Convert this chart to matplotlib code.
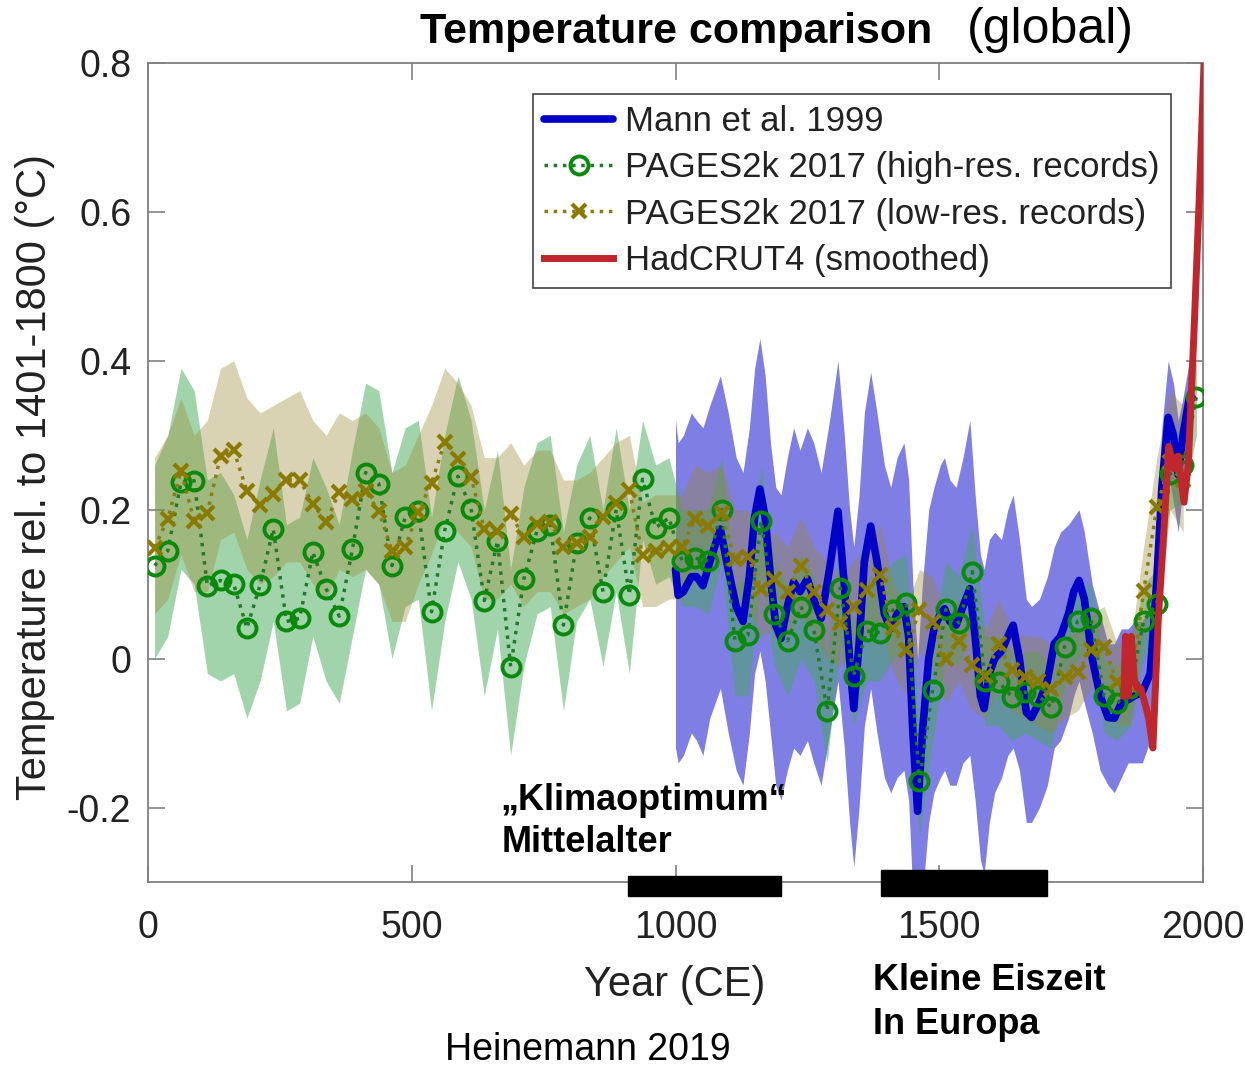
import matplotlib.pyplot as plt
from matplotlib.patches import Rectangle

plt.rcParams['font.family'] = ['Liberation Sans', 'DejaVu Sans']
plt.rcParams['axes.unicode_minus'] = False

W, H = 1245, 1069

# PAGES2k 2017, high-res records (25-year bins)
hi_years = [12.5 + 25 * i for i in range(80)]
hi_vals = [0.125, 0.145, 0.237, 0.239, 0.098, 0.105, 0.100, 0.041, 0.099, 0.174,
           0.050, 0.054, 0.143, 0.094, 0.057, 0.147, 0.250, 0.235, 0.125, 0.190,
           0.198, 0.063, 0.172, 0.245, 0.201, 0.078, 0.158, -0.011, 0.107, 0.172,
           0.180, 0.045, 0.155, 0.189, 0.090, 0.200, 0.086, 0.241, 0.176, 0.189,
           0.131, 0.135, 0.131, 0.200, 0.024, 0.032, 0.185, 0.060, 0.024, 0.070,
           0.038, -0.070, 0.095, -0.023, 0.037, 0.035, 0.065, 0.075, -0.165, -0.042,
           0.066, 0.048, 0.117, -0.030, -0.031, -0.051, -0.045, -0.050, -0.065, 0.016,
           0.050, 0.054, -0.050, -0.060, -0.040, 0.051, 0.074, 0.248, 0.260, 0.352]
hi_up = [0.26, 0.30, 0.39, 0.36, 0.24, 0.25, 0.22, 0.16, 0.24, 0.31,
         0.18, 0.19, 0.27, 0.23, 0.18, 0.28, 0.37, 0.36, 0.25, 0.31,
         0.32, 0.19, 0.30, 0.38, 0.32, 0.20, 0.28, 0.12, 0.23, 0.29,
         0.30, 0.17, 0.26, 0.30, 0.20, 0.31, 0.20, 0.32, 0.26, 0.27,
         0.20, 0.20, 0.20, 0.27, 0.10, 0.11, 0.26, 0.13, 0.10, 0.14,
         0.11, 0.00, 0.17, 0.05, 0.11, 0.10, 0.13, 0.14, -0.09, 0.03,
         0.13, 0.11, 0.18, 0.03, 0.03, 0.01, 0.01, 0.01, -0.01, 0.07,
         0.10, 0.10, 0.00, -0.01, 0.01, 0.10, 0.12, 0.30, 0.31, 0.40]
hi_lo = [0.00, 0.03, 0.12, 0.10, -0.02, -0.03, -0.02, -0.08, -0.03, 0.05,
         -0.07, -0.06, 0.03, -0.03, -0.06, 0.03, 0.12, 0.10, 0.00, 0.07,
         0.08, -0.07, 0.05, 0.13, 0.08, -0.05, 0.04, -0.13, -0.01, 0.06,
         0.07, -0.07, 0.05, 0.08, -0.01, 0.09, -0.02, 0.16, 0.10, 0.11,
         0.07, 0.07, 0.06, 0.13, -0.05, -0.05, 0.11, -0.01, -0.05, 0.00,
         -0.03, -0.14, 0.02, -0.09, -0.03, -0.03, 0.00, 0.01, -0.24, -0.11,
         0.00, -0.01, 0.05, -0.09, -0.09, -0.11, -0.10, -0.11, -0.12, -0.04,
         0.00, 0.01, -0.10, -0.11, -0.09, 0.00, 0.03, 0.20, 0.21, 0.30]

# PAGES2k 2017, low-res records
lr_years = [12.5 + 25 * i for i in range(79)]
lr_vals = [0.149, 0.188, 0.252, 0.185, 0.196, 0.272, 0.280, 0.225, 0.206, 0.221,
           0.240, 0.240, 0.208, 0.183, 0.224, 0.214, 0.225, 0.198, 0.145, 0.150,
           0.197, 0.236, 0.291, 0.268, 0.244, 0.174, 0.172, 0.194, 0.163, 0.181,
           0.183, 0.150, 0.155, 0.163, 0.190, 0.209, 0.226, 0.139, 0.145, 0.149,
           0.150, 0.188, 0.178, 0.195, 0.134, 0.137, 0.094, 0.107, 0.090, 0.125,
           0.090, 0.065, 0.048, 0.070, 0.092, 0.112, 0.041, 0.011, 0.065, 0.049,
           0.000, 0.024, -0.008, -0.023, 0.019, -0.015, -0.025, -0.030, -0.041, -0.025,
           -0.018, 0.012, 0.016, -0.032, -0.035, 0.091, 0.204, 0.264, 0.240]
lr_up = [0.27, 0.30, 0.35, 0.30, 0.32, 0.39, 0.40, 0.35, 0.33, 0.34,
         0.35, 0.36, 0.32, 0.30, 0.33, 0.32, 0.33, 0.31, 0.25, 0.26,
         0.30, 0.34, 0.39, 0.37, 0.34, 0.27, 0.27, 0.29, 0.26, 0.28,
         0.28, 0.24, 0.24, 0.25, 0.27, 0.29, 0.30, 0.21, 0.22, 0.22,
         0.22, 0.26, 0.25, 0.26, 0.20, 0.20, 0.16, 0.17, 0.15, 0.19,
         0.15, 0.13, 0.11, 0.13, 0.15, 0.18, 0.10, 0.07, 0.12, 0.11,
         0.06, 0.08, 0.05, 0.04, 0.08, 0.04, 0.03, 0.03, 0.02, 0.03,
         0.04, 0.06, 0.07, 0.02, 0.02, 0.15, 0.27, 0.36, 0.34]
lr_lo = [0.06, 0.08, 0.14, 0.09, 0.09, 0.16, 0.17, 0.12, 0.10, 0.11,
         0.13, 0.13, 0.10, 0.08, 0.12, 0.11, 0.12, 0.10, 0.05, 0.05,
         0.10, 0.14, 0.19, 0.17, 0.15, 0.08, 0.08, 0.10, 0.07, 0.09,
         0.09, 0.06, 0.07, 0.08, 0.11, 0.13, 0.15, 0.07, 0.07, 0.08,
         0.08, 0.12, 0.11, 0.13, 0.07, 0.07, 0.03, 0.04, 0.03, 0.06,
         0.03, 0.00, -0.01, 0.01, 0.03, 0.05, -0.02, -0.05, 0.01, -0.01,
         -0.06, -0.03, -0.07, -0.08, -0.04, -0.07, -0.08, -0.09, -0.10, -0.08,
         -0.07, -0.04, -0.04, -0.09, -0.09, 0.03, 0.14, 0.20, 0.17]

# Mann et al. 1999
mann_years = [1000, 1005, 1015, 1030, 1040, 1052, 1065, 1085, 1100, 1115,
              1128, 1140, 1150, 1160, 1170, 1180, 1190, 1200, 1212, 1224,
              1236, 1250, 1262, 1276, 1292, 1308, 1320, 1330, 1338, 1348,
              1358, 1370, 1382, 1396, 1408, 1420, 1433, 1442, 1450, 1459,
              1468, 1480, 1490, 1502, 1510, 1520, 1532, 1545, 1558, 1568,
              1578, 1585, 1595, 1605, 1618, 1630, 1640, 1652, 1665, 1675,
              1690, 1705, 1718, 1730, 1745, 1755, 1765, 1775, 1790, 1805,
              1820, 1832, 1845, 1858, 1870, 1885, 1900, 1912, 1922, 1934,
              1944, 1953, 1962, 1974, 1980]
mann_vals = [0.12, 0.085, 0.09, 0.11, 0.11, 0.098, 0.13, 0.174, 0.12, 0.07,
             0.05, 0.11, 0.19, 0.228, 0.19, 0.11, 0.045, 0.027, 0.07, 0.103,
             0.09, 0.107, 0.08, 0.054, 0.12, 0.198, 0.10, 0.0, -0.067, 0.02,
             0.13, 0.178, 0.13, 0.06, 0.04, 0.06, 0.07, 0.03, -0.10, -0.205,
             -0.10, 0.0, 0.04, 0.06, 0.067, 0.05, 0.045, 0.07, 0.094, 0.03,
             -0.05, -0.067, -0.02, 0.0, 0.01, 0.03, 0.045, 0.0, -0.072, -0.079,
             -0.058, -0.03, 0.02, 0.03, 0.06, 0.09, 0.105, 0.08, 0.0, -0.05,
             -0.079, -0.08, -0.06, -0.055, -0.05, -0.045, -0.02, 0.10, 0.23, 0.324,
             0.30, 0.247, 0.30, 0.35, 0.35]
mann_up = [0.32, 0.29, 0.30, 0.33, 0.32, 0.31, 0.34, 0.38, 0.33, 0.27,
           0.25, 0.31, 0.39, 0.43, 0.38, 0.29, 0.23, 0.22, 0.27, 0.31,
           0.28, 0.31, 0.29, 0.25, 0.32, 0.40, 0.30, 0.20, 0.15, 0.22,
           0.33, 0.385, 0.33, 0.26, 0.23, 0.27, 0.29, 0.24, 0.10, 0.0,
           0.10, 0.20, 0.23, 0.26, 0.27, 0.24, 0.23, 0.27, 0.32, 0.22,
           0.14, 0.12, 0.16, 0.17, 0.16, 0.20, 0.22, 0.16, 0.08, 0.07,
           0.08, 0.11, 0.15, 0.17, 0.18, 0.19, 0.20, 0.17, 0.10, 0.06,
           0.02, 0.02, 0.04, 0.04, 0.05, 0.05, 0.07, 0.18, 0.31, 0.40,
           0.37, 0.32, 0.35, 0.40, 0.40]
mann_lo = [-0.12, -0.14, -0.13, -0.10, -0.11, -0.13, -0.08, -0.04, -0.10, -0.15,
           -0.17, -0.10, -0.02, 0.01, -0.03, -0.10, -0.17, -0.19, -0.15, -0.12,
           -0.13, -0.11, -0.14, -0.17, -0.10, -0.03, -0.12, -0.22, -0.28, -0.20,
           -0.09, -0.04, -0.10, -0.16, -0.18, -0.16, -0.15, -0.19, -0.32, -0.33,
           -0.32, -0.22, -0.18, -0.16, -0.15, -0.17, -0.17, -0.14, -0.13, -0.19,
           -0.27, -0.29, -0.22, -0.18, -0.16, -0.13, -0.12, -0.15, -0.22, -0.22,
           -0.20, -0.17, -0.12, -0.11, -0.08, -0.05, -0.03, -0.06, -0.10, -0.15,
           -0.17, -0.18, -0.16, -0.14, -0.14, -0.14, -0.11, 0.01, 0.14, 0.25,
           0.21, 0.17, 0.23, 0.30, 0.30]

# HadCRUT4 (smoothed)
had_years = [1850, 1853, 1858, 1864, 1870, 1876, 1882, 1890, 1897, 1905,
             1915, 1926, 1935, 1945, 1953, 1964, 1972, 1983, 1993, 2003]
had_vals = [-0.05, 0.03, -0.05, 0.03, -0.03, -0.04, -0.04, -0.06, -0.08, -0.12,
            0.05, 0.174, 0.285, 0.255, 0.272, 0.21, 0.26, 0.44, 0.62, 0.82]

# black bars below the axis: (start, end, top)
periods = [(910, 1200, -0.292), (1390, 1705, -0.284)]
y_ticks = [-0.2, 0, 0.2, 0.4, 0.6, 0.8]
y_tick_labels = ['-0.2', '0', '0.2', '0.4', '0.6', '0.8']
x_ticks = [0, 500, 1000, 1500, 2000]

fig = plt.figure(figsize=(W / 100, H / 100), dpi=100)
ax = fig.add_axes([148 / W, 1 - 882 / H, 1055 / W, 819 / H])

ax.fill_between(mann_years, mann_lo, mann_up, color='#2828d2', alpha=0.6, lw=0, zorder=1)
ax.fill_between(hi_years, hi_lo, hi_up, color='#46aa5a', alpha=0.5, lw=0, zorder=2)
ax.fill_between(lr_years, lr_lo, lr_up, color='#9b872d', alpha=0.36, lw=0, zorder=2)

ax.plot(mann_years, mann_vals, color='#0000c8', lw=5.5, solid_joinstyle='round',
        solid_capstyle='round', zorder=4, label='Mann et al. 1999')
ax.plot(hi_years, hi_vals, ls=':', color='#1f7a2a', lw=2.5, marker='o', ms=13,
        mfc='none', mec='#0a8a0a', mew=2.8, zorder=5,
        label='PAGES2k 2017 (high-res. records)')
ax.plot(lr_years, lr_vals, ls=':', color='#8a7c10', lw=2.5, marker='x', ms=10,
        mec='#8a7a00', mew=3, zorder=5, label='PAGES2k 2017 (low-res. records)')
ax.plot(had_years, had_vals, color='#c0262b', lw=5, solid_joinstyle='round',
        zorder=6, label='HadCRUT4 (smoothed)')

for start, end, top in periods:
    ax.add_patch(Rectangle((start, -0.319), end - start, top + 0.319,
                           color='black', clip_on=False, zorder=10))

ax.set_xlim(0, 2000)
ax.set_ylim(-0.3, 0.8)
ax.set_xticks(x_ticks)
ax.set_yticks(y_ticks)
ax.set_yticklabels(y_tick_labels)
ax.tick_params(direction='in', length=12, width=1.2, top=True, right=True,
               color='#808080', labelsize=27, labelcolor='#222222')
ax.tick_params(axis='x', pad=20)
ax.tick_params(axis='y', pad=12)
for sp in ax.spines.values():
    sp.set_color('#808080')
    sp.set_linewidth(1.3)

leg = ax.legend(loc='upper right', bbox_to_anchor=(0.9697, 0.962), fontsize=25,
                frameon=True, fancybox=False, framealpha=1, edgecolor='#444444',
                handlelength=2.0, handletextpad=0.35, labelspacing=0.38,
                borderpad=0.32, borderaxespad=0, numpoints=1)
leg.get_frame().set_linewidth(1.2)
for t in leg.get_texts():
    t.set_color('#222222')

fig.text(35 / W, 1 - 477 / H, 'Temperature rel. to 1401-1800 (°C)', rotation=90,
         ha='center', va='center', fontsize=30, color='#222222')
fig.text(675 / W, 1 - 985 / H, 'Year (CE)', ha='center', va='center',
         fontsize=30, color='#222222')
fig.text(420 / W, 1 - 32 / H, 'Temperature comparison', ha='left', va='center',
         fontsize=31, fontweight='bold')
fig.text(967 / W, 1 - 30 / H, '(global)', ha='left', va='center', fontsize=36)
fig.text(500 / W, 1 - 800 / H, '„Klimaoptimum“', ha='left', va='center',
         fontsize=26, fontweight='bold')
fig.text(502 / W, 1 - 843 / H, 'Mittelalter', ha='left', va='center',
         fontsize=26, fontweight='bold')
fig.text(873 / W, 1 - 980 / H, 'Kleine Eiszeit', ha='left', va='center',
         fontsize=26, fontweight='bold')
fig.text(873 / W, 1 - 1025 / H, 'In Europa', ha='left', va='center',
         fontsize=26, fontweight='bold')
fig.text(588 / W, 1 - 1050 / H, 'Heinemann 2019', ha='center', va='center',
         fontsize=27)

fig.savefig('out.png', dpi=100)
plt.close()
